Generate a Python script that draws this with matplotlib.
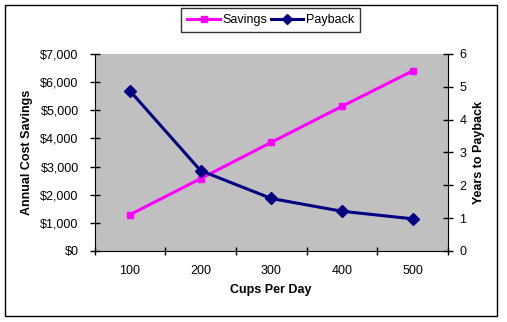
import matplotlib
matplotlib.use("Agg")
import matplotlib.pyplot as plt
from matplotlib.patches import Rectangle
from matplotlib.lines import Line2D

plt.rcParams['font.family'] = ['Liberation Sans', 'DejaVu Sans']

# data
cups = ['100', '200', '300', '400', '500']
savings = [1290, 2570, 3860, 5140, 6400]
payback = [4.88, 2.45, 1.60, 1.21, 0.98]

left_ticks = [0, 1000, 2000, 3000, 4000, 5000, 6000, 7000]
left_labels = ['$0', '$1,000', '$2,000', '$3,000', '$4,000', '$5,000', '$6,000', '$7,000']
right_ticks = [0, 1, 2, 3, 4, 5, 6]

pink = '#FF00FF'
navy = '#000080'

fig = plt.figure(figsize=(5.07, 3.22), dpi=100)
ax = fig.add_axes([0.1864, 0.2205, 0.6972, 0.6118])
ax.set_facecolor('#C0C0C0')

x = range(len(cups))
ax.plot(x, savings, color=pink, lw=2.2, marker='s', ms=4.5, mec=pink, mfc=pink)
ax.set_xlim(-0.5, len(cups) - 0.5)
ax.set_ylim(0, 7000)
ax.set_yticks(left_ticks)
ax.set_yticklabels(left_labels)
ax.set_xticks(x)
ax.set_xticklabels(cups)
ax.set_xticks([i + 0.5 for i in range(-1, len(cups))], minor=True)
ax.tick_params(axis='x', which='major', length=0, pad=10, labelsize=9)
ax.tick_params(axis='x', which='minor', length=6, direction='inout', width=1)
ax.tick_params(axis='y', length=7, direction='inout', labelsize=9, width=1, pad=7.9)
ax.set_xlabel('Cups Per Day', fontsize=9, fontweight='bold', labelpad=5)
ax.set_ylabel('Annual Cost Savings', fontsize=9, fontweight='bold', labelpad=5)
for s in ['top', 'right']:
    ax.spines[s].set_visible(False)

ax2 = ax.twinx()
ax2.plot(x, payback, color=navy, lw=2.2, marker='D', ms=6, mec=navy, mfc=navy)
ax2.set_ylim(0, 6)
ax2.set_yticks(right_ticks)
ax2.tick_params(axis='y', length=7, direction='inout', labelsize=9, width=1, pad=4.7)
ax2.set_ylabel('Years to Payback', fontsize=9, fontweight='bold', labelpad=5)
for s in ['top', 'left', 'bottom']:
    ax2.spines[s].set_visible(False)

handles = [Line2D([], [], color=pink, lw=2.2, marker='s', ms=4.5),
           Line2D([], [], color=navy, lw=2.2, marker='D', ms=5)]
leg = fig.legend(handles, ['Savings', 'Payback'], loc='center', bbox_to_anchor=(0.534, 0.938),
                 ncol=2, fontsize=9, frameon=True, fancybox=False, edgecolor='black',
                 handlelength=2.6, handletextpad=0.2, columnspacing=0.3, borderpad=0.5,
                 borderaxespad=0)
leg.get_frame().set_linewidth(1)

# outer chart border
fig.patches.append(Rectangle((5 / 507, 6 / 322), 492 / 507, 311 / 322, transform=fig.transFigure,
                             fill=False, edgecolor='black', lw=1))

fig.savefig('out.png', dpi=100)
